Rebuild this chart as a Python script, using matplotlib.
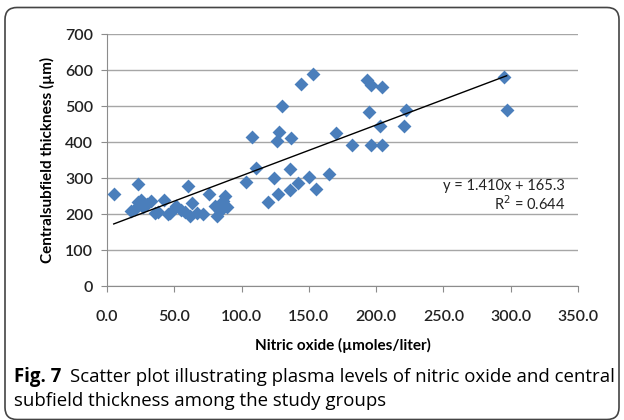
import matplotlib
matplotlib.use("Agg")
import numpy as np
from matplotlib import pyplot as plt
from matplotlib.patches import FancyBboxPatch

# values
nitric_oxide = [5, 23, 18, 21, 23, 25, 27, 30, 33, 36, 38, 42, 45, 47, 51, 55, 58,
                60, 62, 63, 67, 71, 76, 80, 82, 84, 86, 88, 89, 103, 111, 108, 120,
                124, 127, 128, 126, 130, 136, 136, 137, 142, 144, 150, 153, 155, 165,
                170, 182, 193, 196, 195, 196, 204, 203, 204, 221, 222, 295, 297]
thickness = [256, 282, 207, 214, 233, 239, 220, 228, 237, 203, 205, 240, 200, 202,
             222, 212, 205, 278, 195, 230, 203, 200, 256, 223, 195, 208, 237, 251,
             219, 288, 327, 414, 234, 300, 256, 428, 403, 500, 324, 267, 412, 286,
             561, 304, 590, 270, 312, 425, 391, 572, 558, 484, 391, 553, 444, 391,
             444, 490, 580, 490]
slope, intercept, r2 = 1.410, 165.3, 0.644
x_ticks = [0, 50, 100, 150, 200, 250, 300, 350]
y_ticks = [0, 100, 200, 300, 400, 500, 600, 700]

tick_font = "Lato"
fig = plt.figure(figsize=(6.24, 4.2), dpi=100)
ax = fig.add_axes([107 / 624, 1 - 286 / 420, (578 - 107) / 624, (286 - 34) / 420])

ax.scatter(nitric_oxide, thickness, marker="D", s=50, color="#4a7ebb", zorder=3,
           linewidths=0)
xs = np.array([min(nitric_oxide), max(nitric_oxide)])
ax.plot(xs, slope * xs + intercept, color="black", lw=1, zorder=4)

ax.set_xlim(0, 350)
ax.set_ylim(0, 700)
ax.set_xticks(x_ticks)
ax.set_xticklabels(["%.1f" % v for v in x_ticks])
ax.set_yticks(y_ticks)
ax.yaxis.grid(True, color="#a6a6a6", lw=1)
ax.set_axisbelow(True)
for s in ["top", "right"]:
    ax.spines[s].set_visible(False)
for s in ["left", "bottom"]:
    ax.spines[s].set_color("#8c8c8c")
ax.tick_params(direction="out", length=4, color="#8c8c8c", labelsize=11.5,
               labelcolor="#222222")
for lab in ax.get_xticklabels() + ax.get_yticklabels():
    lab.set_fontfamily(tick_font)
    lab.set_fontweight("semibold")
ax.tick_params(axis="x", pad=13)
ax.tick_params(axis="y", pad=6)

ax.text(0.972, 0.395, "y = 1.410x + 165.3", transform=ax.transAxes, ha="right",
        va="center", fontsize=10.5, family=tick_font, color="#222222")
ax.text(0.972, 0.328, "R$^2$ = 0.644", transform=ax.transAxes, ha="right",
        va="center", fontsize=10.5, family=tick_font, color="#222222")

fig.text(343 / 624, 1 - 345 / 420, "Nitric oxide (µmoles/liter)", ha="center",
         va="center", fontsize=11, fontweight="bold", family=tick_font)
fig.text(47 / 624, 1 - 160 / 420, "Centralsubfield thickness (µm)", ha="center",
         va="center", rotation=90, fontsize=11, fontweight="bold", family=tick_font)

# rounded frame around the figure
frame = FancyBboxPatch((0.05, 0.005), 6.14, 4.12, boxstyle="round,pad=0,rounding_size=0.12",
                       transform=fig.dpi_scale_trans, fill=False, ec="#444444", lw=1.2)
fig.patches.append(frame)

# caption with bold figure number
cap_font = "Open Sans"
t1 = fig.text(14 / 624, 1 - 377 / 420, "Fig. 7", fontsize=13.4, fontweight="bold",
              family=cap_font, va="center", ha="left")
fig.canvas.draw()
bb = t1.get_window_extent()
fig.text((bb.x1 + 9) / 624, 1 - 377 / 420,
         "Scatter plot illustrating plasma levels of nitric oxide and central",
         fontsize=13.4, family=cap_font, va="center", ha="left")
fig.text(14 / 624, 1 - 401 / 420, "subfield thickness among the study groups",
         fontsize=13.4, family=cap_font, va="center", ha="left")

fig.savefig("out.png", dpi=100)
